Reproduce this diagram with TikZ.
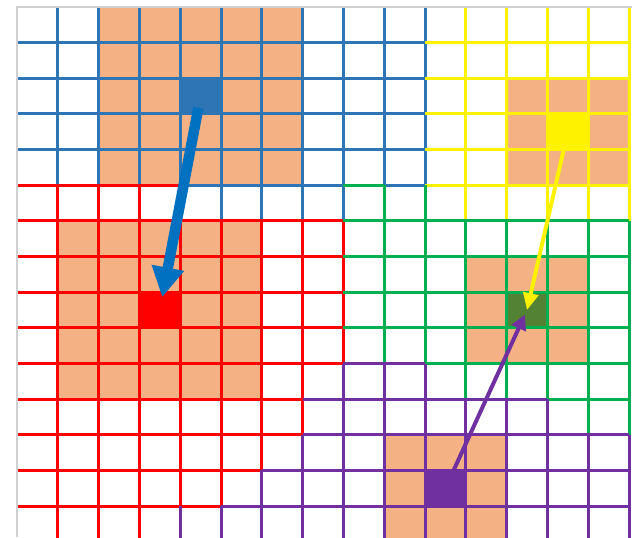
\documentclass[tikz,border=0pt]{standalone}
\usepackage{tikz}
\usetikzlibrary{arrows.meta, calc}
\definecolor{peach}{HTML}{F4B183}
\definecolor{gblue}{HTML}{2E75B6}
\definecolor{ablue}{HTML}{0070C0}
\definecolor{ggreen}{HTML}{00B050}
\definecolor{dgreen}{HTML}{548235}
\definecolor{gpurple}{HTML}{7030A0}
\definecolor{framegray}{HTML}{D0D0D0}

\begin{document}
\begin{tikzpicture}[x=0.816cm, y=-0.713cm,
  gl/.style={line width=0.06cm},
  cell/.style={minimum width=0.816cm, minimum height=0.713cm, inner sep=0pt, outer sep=0pt}]
\useasboundingbox (-0.4167,-0.1964) rectangle (15.0735,14.867);

% 周辺の塗りつぶし
\fill[peach] (2,0) rectangle (7,5);
\fill[peach] (12,2) rectangle (15,5);
\fill[peach] (1,6) rectangle (6,11);
\fill[peach] (11,7) rectangle (14,10);
\fill[peach] (9,12) rectangle (12,15);

% 中心のマス
\node[cell, fill=gblue] (bc) at (4.5,2.5) {};
\node[cell, fill=yellow] (yc) at (13.5,3.5) {};
\node[cell, fill=red] (rc) at (3.5,8.5) {};
\node[cell, fill=dgreen] (gc) at (12.5,8.5) {};
\node[cell, fill=gpurple] (pc) at (10.5,13.5) {};

% 青の格子
\foreach \r in {1,...,4} \draw[gl, gblue] (0,\r) -- (10,\r);
\draw[gl, gblue] (4,5) -- (8,5) (9,5) -- (10,5);
\foreach \c in {1,2,3,9,10} \draw[gl, gblue] (\c,0) -- (\c,5);
\foreach \c in {4,...,8} \draw[gl, gblue] (\c,0) -- (\c,6);

% 黄の格子
\foreach \r in {1,...,5} \draw[gl, yellow] (10,\r) -- (15,\r);
\foreach \c in {11,...,15} \draw[gl, yellow] (\c,0) -- (\c,6);

% 赤の格子
\draw[gl, red] (0,5) -- (4,5);
\foreach \r in {6,...,10} \draw[gl, red] (0,\r) -- (8,\r);
\draw[gl, red] (0,11) -- (7,11) (0,12) -- (7,12) (0,13) -- (6,13) (0,14) -- (5,14);
\foreach \c in {1,2,3} \draw[gl, red] (\c,5) -- (\c,15);
\draw[gl, red] (4,6) -- (4,14) (5,6) -- (5,14) (6,6) -- (6,13) (7,6) -- (7,12) (8,6) -- (8,10);

% 緑の格子
\draw[gl, ggreen] (8,5) -- (9,5);
\foreach \r in {6,...,9} \draw[gl, ggreen] (8,\r) -- (15,\r);
\draw[gl, ggreen] (10,10) -- (15,10) (13,11) -- (15,11);
\foreach \c in {9,10} \draw[gl, ggreen] (\c,5) -- (\c,10);
\foreach \c in {11,12,13} \draw[gl, ggreen] (\c,6) -- (\c,11);
\foreach \c in {14,15} \draw[gl, ggreen] (\c,6) -- (\c,12);

% 紫の格子
\draw[gl, gpurple] (8,10) -- (10,10) (7,11) -- (13,11) (7,12) -- (15,12) (6,13) -- (15,13) (5,14) -- (15,14);
\draw[gl, gpurple] (4,14) -- (4,15) (5,14) -- (5,15) (6,13) -- (6,15) (7,12) -- (7,15);
\foreach \c in {8,9,10} \draw[gl, gpurple] (\c,10) -- (\c,15);
\foreach \c in {11,12,13} \draw[gl, gpurple] (\c,11) -- (\c,15);
\foreach \c in {14,15} \draw[gl, gpurple] (\c,12) -- (\c,15);

% 矢印
\draw[ablue, line width=0.21cm, -{Triangle[length=0.6cm,width=0.62cm]},
  shorten <=0.24cm, shorten >=0.26cm] (bc.center) -- (rc.center);
\draw[yellow, line width=0.08cm, -{Triangle[length=0.34cm,width=0.3cm]}] (yc.center) -- (gc.center);
\draw[gpurple, line width=0.08cm, -{Triangle[length=0.3cm,width=0.3cm]},
  shorten >=0.1cm] (pc.center) -- (gc.center);

% 外枠
\draw[framegray, line width=0.04cm] (0,14.867) -- (0,0) -- (15.0735,0);

\end{tikzpicture}
\end{document}
